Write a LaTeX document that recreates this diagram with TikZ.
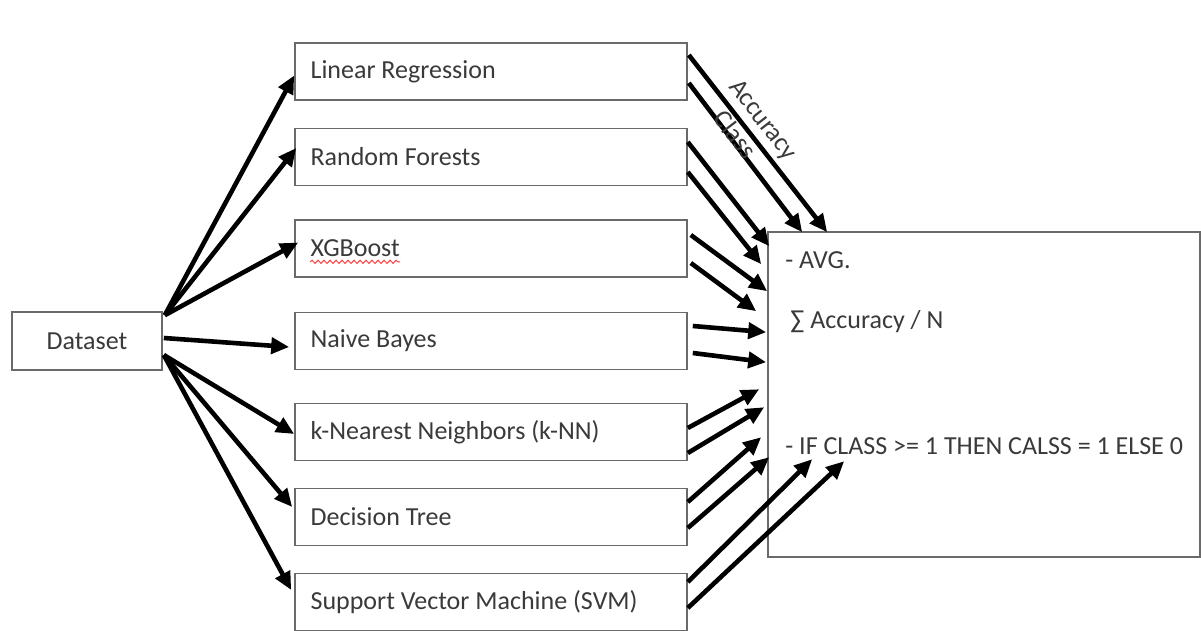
\documentclass[tikz,border=0pt]{standalone}
\usepackage{fontspec}
\setmainfont{Carlito}
\usetikzlibrary{arrows.meta,calc,decorations.pathmorphing}
\definecolor{txt}{HTML}{3A3A3A}
\definecolor{edge}{HTML}{6A6A6A}
\tikzset{
  box/.style={draw=edge,line width=0.8pt,fill=white,text=txt,font=\fontsize{13}{15}\selectfont},
  model/.style={box,minimum width=196pt,minimum height=28.5pt,inner sep=0pt},
  arr/.style={line width=2.3pt,-{Triangle[length=9pt,width=8pt]}},
  label/.style={text=txt,font=\fontsize{13}{15}\selectfont,anchor=west,inner sep=0pt},
  rlabel/.style={text=txt,font=\fontsize{13}{15}\selectfont,sloped},
}
\begin{document}
\begin{tikzpicture}[x=0.5pt,y=-0.5pt]
\useasboundingbox (0,0) rectangle (1201,631);
\fill[white] (0,0) rectangle (1201,631);
% big output box
\node[box,minimum width=216pt,minimum height=162.5pt,inner sep=0pt] (out) at (984,394.5) {};
\node[label] (avg) at (785,260) {- AVG.};
\node[label] (sum) at (790,322) {∑ Accuracy / N};
\node[label] (cls) at (785,446) {- IF CLASS >= 1 THEN CALSS = 1 ELSE 0};
% dataset
\node[box,minimum width=75pt,minimum height=29pt,inner sep=0pt] (ds) at (87,341) {Dataset};
% models
\node[model] (lr)  at (491,71.5)  {};
\node[model] (rf)  at (491,157)   {};
\node[model] (xgb) at (491,248.5) {};
\node[model] (nb)  at (491,341)   {};
\node[model] (knn) at (491,432)   {};
\node[model] (dt)  at (491,517)   {};
\node[model] (svm) at (491,602)   {};
\node[label] (lrt)  at ([xshift=8pt]lr.west)  {Linear Regression};
\node[label] (rft)  at ([xshift=8pt]rf.west)  {Random Forests};
\node[label] (xgbt) at ([xshift=8pt]xgb.west) {XGBoost};
\node[label] (nbt)  at ([xshift=8pt]nb.west)  {Naive Bayes};
\node[label] (knnt) at ([xshift=8pt]knn.west) {k-Nearest Neighbors (k-NN)};
\node[label] (dtt)  at ([xshift=8pt]dt.west)  {Decision Tree};
\node[label] (svmt) at ([xshift=8pt]svm.west) {Support Vector Machine (SVM)};
% spell-check squiggle under XGBoost
\draw[red!75,line width=0.5pt,decorate,decoration={snake,amplitude=0.8pt,segment length=3pt}]
  ([yshift=-2.2pt]xgbt.south west) -- ([yshift=-2.2pt]xgbt.south east);
% dataset -> models
\draw[arr] ([shift={(1pt,-2pt)}]ds.north east) -- ([shift={(0pt,-2pt)}]lr.west);
\draw[arr] ([shift={(1pt,-2pt)}]ds.north east) -- ([shift={(1pt,4.5pt)}]rf.west);
\draw[arr] ([shift={(1pt,-2pt)}]ds.north east) -- ([shift={(2pt,3pt)}]xgb.west);
\draw[arr] ([shift={(0.5pt,1.5pt)}]ds.east) -- ([shift={(-2.5pt,-3pt)}]nb.west);
\draw[arr] ([shift={(0.5pt,-7pt)}]ds.east) -- ([shift={(0pt,-1pt)}]knn.west);
\draw[arr] ([shift={(0.5pt,-7pt)}]ds.east) -- ([shift={(-1pt,5pt)}]dt.west);
\draw[arr] ([shift={(0.5pt,-7pt)}]ds.east) -- ([shift={(-1.5pt,6pt)}]svm.west);
% models -> output
\draw[arr] ([shift={(0.5pt,8.25pt)}]lr.east) -- ([shift={(30pt,-0.5pt)}]out.north west)
  node[rlabel,pos=0.43,above=-1pt] (acc) {Accuracy};
\draw[arr] ([shift={(0.5pt,-5.75pt)}]lr.east) -- ([shift={(17.5pt,-0.5pt)}]out.north west)
  node[rlabel,pos=0.37,above=-6pt] (cl) {Class};
\draw[arr] ([shift={(0pt,7.5pt)}]rf.east) -- ([shift={(1pt,-7.5pt)}]out.north west);
\draw[arr] ([shift={(0pt,-7.5pt)}]rf.east) -- ([shift={(-3pt,-16.5pt)}]out.north west);
\draw[arr] ([shift={(1.5pt,6.75pt)}]xgb.east) -- ([shift={(0pt,-30pt)}]out.north west);
\draw[arr] ([shift={(1.5pt,-7.25pt)}]xgb.east) -- ([shift={(-5.5pt,-40pt)}]out.north west);
\draw[arr] ([shift={(2.5pt,7.5pt)}]nb.east) -- ([shift={(-0.5pt,-50.5pt)}]out.north west);
\draw[arr] ([shift={(2.5pt,-6pt)}]nb.east) -- ([shift={(-0.5pt,-65.5pt)}]out.north west);
\draw[arr] ([shift={(0pt,2pt)}]knn.east) -- ([shift={(-4pt,-79pt)}]out.north west);
\draw[arr] ([shift={(0pt,-10.5pt)}]knn.east) -- ([shift={(-1.5pt,-88pt)}]out.north west);
\draw[arr] ([shift={(0pt,7.5pt)}]dt.east) -- ([shift={(-3pt,-103pt)}]out.north west);
\draw[arr] ([shift={(0pt,-5.5pt)}]dt.east) -- ([shift={(1pt,-113pt)}]out.north west);
\draw[arr] ([shift={(0pt,10pt)}]svm.east) -- ([shift={(22.5pt,-114pt)}]out.north west);
\draw[arr] ([shift={(0pt,-3pt)}]svm.east) -- ([shift={(38.5pt,-115pt)}]out.north west);
\end{tikzpicture}
\end{document}
